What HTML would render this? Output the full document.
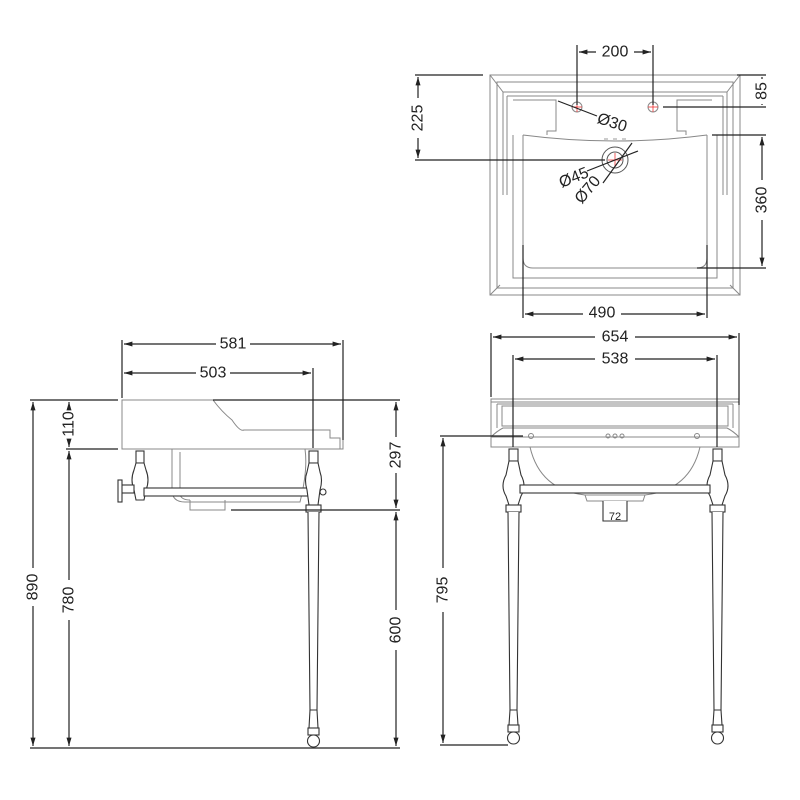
<!DOCTYPE html>
<html><head><meta charset="utf-8"><style>
html,body{margin:0;padding:0;background:#fff}
svg{display:block}
text{font-family:"Liberation Sans",Arial,sans-serif;font-size:16px;fill:#222;text-anchor:middle;dominant-baseline:central}
</style></head><body>
<svg width="800" height="800" viewBox="0 0 800 800" xmlns="http://www.w3.org/2000/svg">
<defs>
<marker id="a" viewBox="0 0 10 10" refX="10" refY="5" markerWidth="7" markerHeight="7" orient="auto-start-reverse"><path d="M0,2 L10,5 L0,8 z" fill="#222"/></marker>
</defs>
<g stroke="#888" stroke-width="1" fill="none">
<rect x="490" y="75" width="250" height="220"/>
<rect x="497" y="82" width="236" height="206"/>
<line x1="490" y1="75" x2="503" y2="92"/><line x1="740" y1="75" x2="727" y2="92"/>
<line x1="490" y1="295" x2="500" y2="285"/><line x1="740" y1="295" x2="730" y2="285"/>
<path d="M503,92 H727 V195 M503,92 V195"/>
<path d="M507,96 H723 M507,96 V195 M723,96 V195"/>
<path d="M513,100 H556 V131 H547 V135 M712,100 H677 V131 H686 V135"/>
<path d="M523,135 Q615,147 707,135"/>
<path d="M523,135 V258 Q523,268 533,268 H697 Q707,268 707,258 V135"/>
<path d="M513,135 V278 H717 V135"/>
<circle cx="577" cy="107" r="5"/><circle cx="653" cy="107" r="5"/>
<circle cx="615" cy="160" r="13" stroke="#555"/><circle cx="615" cy="160" r="8" stroke="#555"/>
</g>
<g stroke="#e33" stroke-width="0.8">
<line x1="572" y1="107" x2="582" y2="107"/><line x1="577" y1="102" x2="577" y2="112"/>
<line x1="648" y1="107" x2="658" y2="107"/><line x1="653" y1="102" x2="653" y2="112"/>
<line x1="608" y1="160" x2="622" y2="160"/><line x1="615" y1="153" x2="615" y2="167"/>
</g>
<g fill="#ccc"><rect x="604" y="138" width="4" height="2"/><rect x="613" y="138" width="4" height="2"/><rect x="622" y="138" width="4" height="2"/></g>

<g stroke="#222" stroke-width="1.2" fill="none">
<line x1="577" y1="45" x2="577" y2="105"/><line x1="653" y1="45" x2="653" y2="105"/>
<line x1="579" y1="52" x2="596" y2="52" marker-start="url(#a)"/><line x1="634" y1="52" x2="651" y2="52" marker-end="url(#a)"/>
<line x1="415" y1="75" x2="483" y2="75"/><line x1="415" y1="160" x2="605" y2="160"/>
<line x1="418" y1="77" x2="418" y2="98" marker-start="url(#a)"/><line x1="418" y1="138" x2="418" y2="158" marker-end="url(#a)"/>
<line x1="737" y1="75" x2="766" y2="75"/><line x1="663" y1="107" x2="766" y2="107"/>
<line x1="762" y1="77" x2="762" y2="79"/><line x1="762" y1="104" x2="762" y2="105"/>
<line x1="712" y1="135" x2="766" y2="135"/><line x1="697" y1="268" x2="766" y2="268"/>
<line x1="762" y1="137" x2="762" y2="180" marker-start="url(#a)"/><line x1="762" y1="220" x2="762" y2="266" marker-end="url(#a)"/>
<line x1="523" y1="245" x2="523" y2="318"/><line x1="707" y1="245" x2="707" y2="318"/>
<line x1="525" y1="314" x2="583" y2="314" marker-start="url(#a)"/><line x1="621" y1="314" x2="705" y2="314" marker-end="url(#a)"/>
<line x1="558" y1="101" x2="597" y2="116"/>
<line x1="587" y1="171" x2="638" y2="151"/>
<line x1="603" y1="183" x2="632" y2="143"/>
</g>
<text x="615" y="52">200</text>
<text transform="translate(418,118) rotate(-90)">225</text>
<text transform="translate(762,91) rotate(-90)">85</text>
<text transform="translate(762,200) rotate(-90)">360</text>
<text x="602" y="313">490</text>
<text transform="translate(612,123) rotate(18)">Ø30</text>
<text transform="translate(574,178) rotate(-22)">Ø45</text>
<text transform="translate(588,190) rotate(-50)">Ø70</text>

<!-- LEFT SIDE VIEW -->
<g stroke="#888" stroke-width="1" fill="none">
<rect x="122" y="400" width="221" height="49"/>
<path d="M213,400 Q222,412 232,420 Q240,432 244,430 H330 V438 H340 V449"/>
<path d="M172,449 V490 Q172,502 185,502 H300 Q308,470 305,449"/>
<path d="M180,452 V495 Q182,500 190,500 M190,500 V510 H225 V500"/>
</g>
<g stroke="#333" stroke-width="1.1" fill="#fff">
<rect x="136" y="451" width="8" height="12"/>
<path d="M136,463 H144 L146,470 Q150,480 146,490 L144,500 H136 L134,490 Q130,480 134,470 Z"/>
<rect x="120" y="485" width="14" height="8"/>
<rect x="118" y="480" width="4" height="22"/>
<rect x="144" y="488" width="166" height="8"/>
<rect x="309" y="451" width="9" height="12"/>
<path d="M309,463 H318 L320,472 Q323,480 320,490 L318,505 H309 L307,490 Q304,480 307,472 Z"/>
<circle cx="323" cy="492" r="3"/>
<rect x="306" y="505" width="15" height="7"/>
<path d="M308,512 L310,710 H317 L319,512"/>
<rect x="308" y="728" width="11" height="7"/>
<path d="M310,710 L309,728 M317,710 L318,728"/>
<circle cx="313.5" cy="741" r="6"/>
</g>
<g stroke="#222" stroke-width="1.2" fill="none">
<line x1="122" y1="340" x2="122" y2="398"/><line x1="343" y1="340" x2="343" y2="440"/>
<line x1="124" y1="344" x2="216" y2="344" marker-start="url(#a)"/><line x1="250" y1="344" x2="341" y2="344" marker-end="url(#a)"/>
<line x1="313" y1="368" x2="313" y2="448"/>
<line x1="124" y1="373" x2="196" y2="373" marker-start="url(#a)"/><line x1="230" y1="373" x2="311" y2="373" marker-end="url(#a)"/>
<line x1="30" y1="400" x2="118" y2="400"/><line x1="213" y1="400" x2="400" y2="400"/>
<line x1="66" y1="449" x2="118" y2="449"/>
<line x1="231" y1="510" x2="400" y2="510"/>
<line x1="30" y1="748" x2="400" y2="748"/>
<line x1="33" y1="402" x2="33" y2="568" marker-start="url(#a)"/><line x1="33" y1="606" x2="33" y2="746" marker-end="url(#a)"/>
<line x1="69" y1="402" x2="69" y2="408" marker-start="url(#a)"/><line x1="69" y1="440" x2="69" y2="447" marker-end="url(#a)"/>
<line x1="69" y1="451" x2="69" y2="580" marker-start="url(#a)"/><line x1="69" y1="620" x2="69" y2="746" marker-end="url(#a)"/>
<line x1="396" y1="402" x2="396" y2="437" marker-start="url(#a)"/><line x1="396" y1="473" x2="396" y2="508" marker-end="url(#a)"/>
<line x1="396" y1="512" x2="396" y2="610" marker-start="url(#a)"/><line x1="396" y1="650" x2="396" y2="746" marker-end="url(#a)"/>
</g>
<text x="233" y="344">581</text>
<text x="213" y="373">503</text>
<text transform="translate(69,424) rotate(-90)">110</text>
<text transform="translate(33,587) rotate(-90)">890</text>
<text transform="translate(69,600) rotate(-90)">780</text>
<text transform="translate(396,455) rotate(-90)">297</text>
<text transform="translate(396,630) rotate(-90)">600</text>

<!-- RIGHT FRONT VIEW -->
<g stroke="#888" stroke-width="1" fill="none">
<rect x="491" y="399" width="248" height="48"/>
<line x1="491" y1="402" x2="739" y2="402"/>
<path d="M497,404 H733 M497,404 V428 M733,404 V428"/>
<path d="M502,406 H728 V426 H502 Z"/>
<path d="M491,437 Q497,431 503,428 H727 Q733,431 739,437"/>
<line x1="491" y1="437" x2="739" y2="437"/>
<path d="M530,447 Q540,490 585,495 H645 Q690,490 700,447"/>
<path d="M585,495 L587,501 H643 L645,495"/>
<circle cx="531" cy="436" r="2.5"/><circle cx="697" cy="436" r="2.5"/>
<circle cx="608" cy="436" r="2"/><circle cx="615" cy="436" r="2"/><circle cx="622" cy="436" r="2"/>
</g>
<g stroke="#333" stroke-width="1.1" fill="#fff">
<path d="M603,501 V521 H627 V501"/>
<rect x="509" y="449" width="9" height="12"/>
<path d="M509,461 H518 L521,475 Q527,486 521,496 L518,505 H509 L506,496 Q500,486 506,475 Z"/>
<rect x="713" y="449" width="9" height="12"/>
<path d="M713,461 H722 L725,475 Q731,486 725,496 L722,505 H713 L710,496 Q704,486 710,475 Z"/>
<rect x="520" y="485" width="190" height="8"/>
<rect x="506" y="505" width="15" height="7"/><rect x="710" y="505" width="15" height="7"/>
<path d="M508,512 L510,710 H517 L519,512"/><path d="M712,512 L714,710 H721 L723,512"/>
<rect x="508" y="725" width="11" height="7"/><rect x="712" y="725" width="11" height="7"/>
<path d="M510,710 L509,725 M517,710 L518,725 M714,710 L713,725 M721,710 L722,725"/>
<circle cx="513.5" cy="738" r="6"/><circle cx="717.5" cy="738" r="6"/>
</g>
<text x="615" y="517" style="font-size:11px">72</text>
<g stroke="#222" stroke-width="1.2" fill="none">
<line x1="491" y1="333" x2="491" y2="397"/><line x1="739" y1="333" x2="739" y2="405"/>
<line x1="493" y1="337" x2="595" y2="337" marker-start="url(#a)"/><line x1="635" y1="337" x2="737" y2="337" marker-end="url(#a)"/>
<line x1="513" y1="355" x2="513" y2="447"/><line x1="717" y1="355" x2="717" y2="447"/>
<line x1="515" y1="359" x2="595" y2="359" marker-start="url(#a)"/><line x1="635" y1="359" x2="715" y2="359" marker-end="url(#a)"/>
<line x1="440" y1="436" x2="523" y2="436"/>
<line x1="443" y1="438" x2="443" y2="568" marker-start="url(#a)"/><line x1="443" y1="612" x2="443" y2="743" marker-end="url(#a)"/>
<line x1="440" y1="745" x2="508" y2="745"/>
</g>
<text x="615" y="337">654</text>
<text x="615" y="359">538</text>
<text transform="translate(443,590) rotate(-90)">795</text>
</svg>
</body></html>
